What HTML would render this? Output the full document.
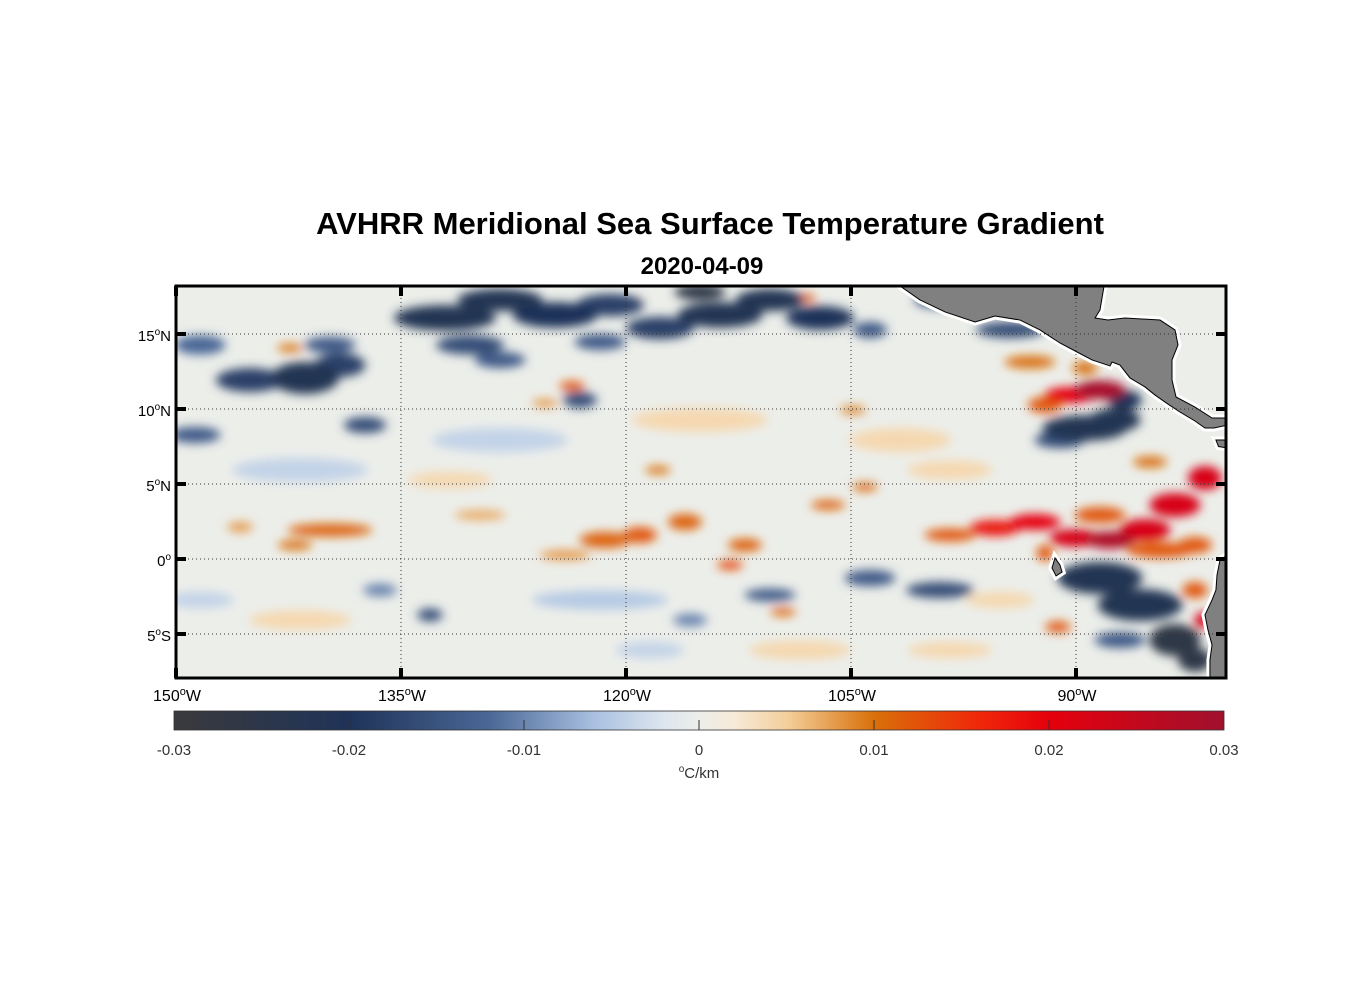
<!DOCTYPE html>
<html><head><meta charset="utf-8"><style>
body{margin:0;background:#fff;}
svg text{font-family:"Liberation Sans",sans-serif;}
</style></head><body>
<svg id="chart" width="1356" height="1000" xmlns="http://www.w3.org/2000/svg">
<defs>
<filter id="blur" x="-20%" y="-20%" width="140%" height="140%"><feGaussianBlur stdDeviation="5"/></filter>
<clipPath id="plotclip"><rect x="176" y="286" width="1050" height="392"/></clipPath>
<linearGradient id="cbgrad" x1="0" x2="1" y1="0" y2="0"></linearGradient>
</defs>
<text x="710" y="234" text-anchor="middle" font-size="31" font-weight="bold">AVHRR Meridional Sea Surface Temperature Gradient</text>
<text x="702" y="274" text-anchor="middle" font-size="24" font-weight="bold">2020-04-09</text>
<rect x="176" y="286" width="1050" height="392" fill="#eceeea"/>
<g id="field" clip-path="url(#plotclip)"><g id="fieldInner" filter="url(#blur)"></g></g>
<g id="land" clip-path="url(#plotclip)"></g>
<g id="grid"></g>
<rect x="176" y="286" width="1050" height="392" fill="none" stroke="#000" stroke-width="3"/>
<g id="axes"></g>
<rect x="174" y="711" width="1050" height="19" fill="url(#cbgrad)" stroke="#333" stroke-width="0.8"/>
<g id="cbticks"></g>
<text x="699" y="778" text-anchor="middle" font-size="15" fill="#333"><tspan font-size="10" dy="-6">o</tspan><tspan dy="6">C/km</tspan></text>
</svg>
<script>
const NS="http://www.w3.org/2000/svg";
const lonTicks=[-150,-135,-120,-105,-90];
const lonLabels=["150","135","120","105","90"];
const latTicks=[15,10,5,0,-5];
const latLabels=["15","10","5","0","5"];
const latHem=["N","N","N","","S"];
const cbTicks=[-0.03,-0.02,-0.01,0,0.01,0.02,0.03];
const cbLabels=["-0.03","-0.02","-0.01","0","0.01","0.02","0.03"];
const cmapVals=[-0.03,-0.02,-0.012,-0.006,-0.002,0,0.002,0.005,0.01,0.016,0.02,0.03];
const cmapCols=["#3a3a3c","#1f3358","#4a6796","#a9c0e0","#dde6ef","#eceeea","#f6ead8","#f4cf9c","#d9700a","#f0280a","#e6000c","#a0102e"];
// blobs: lon, lat, value, length (deg), height (deg)
const blobLon=[-148.4,-145.07,-141.4,-139.07,-148.73,-137.4,-139.73,-132.07,-128.4,-124.73,-121.07,-117.73,-113.73,-110.4,-107.07,-115.07,-130.4,-121.73,-128.4,-123.07,-99.07,-94.4,-103.73,-89.4,-87.4,-86.73,-91.07,-88.4,-85.73,-83.4,-82.07,-99.07,-103.73,-133.07,-136.4,-110.4,-115.73,-87.07,-88.4,-90.4,-92.07,-93.07,-89.4,-98.4,-95.4,-92.73,-90.07,-87.73,-85.4,-83.4,-81.4,-84.4,-82.07,-92.07,-88.4,-85.07,-82.07,-81.53,-91.2,-139.73,-142.07,-145.73,-129.73,-121.4,-119.07,-124.07,-116.07,-112.07,-113.07,-106.53,-104.07,-117.87,-123.6,-142.4,-108.2,-104.87,-109.53,-119.73,-125.4,-141.73,-115.07,-128.4,-101.73,-121.73,-141.73,-108.4,-98.4,-131.73,-98.4,-148.4,-95.07,-118.4,-85.07];
const blobLat=[14.27,11.93,12.07,12.93,8.27,8.93,14.27,16.07,17.27,16.27,16.93,15.4,16.27,17.27,16.07,17.8,14.27,14.47,13.27,10.6,17.27,15.27,15.27,8.73,9.27,10.6,7.93,-1.27,-3.07,-5.4,-6.73,-2.07,-1.27,-3.73,-2.07,-2.4,-4.07,-5.4,11.27,10.93,10.27,13.13,12.73,1.6,2.07,2.47,1.4,1.27,1.93,3.6,5.4,0.6,0.93,0.4,2.93,6.47,-2.07,-4.07,-4.53,1.93,0.93,2.13,2.93,1.27,1.6,0.27,2.47,0.93,-0.4,3.6,4.8,5.93,11.53,14.07,17.4,9.93,-3.53,17.13,10.4,5.93,9.27,7.93,7.93,-2.73,-4.07,-6.07,5.93,5.27,-6.07,-2.73,-2.73,-6.07,14.6];
const blobVal=[-0.012,-0.018,-0.022,-0.018,-0.014,-0.016,-0.014,-0.022,-0.022,-0.020,-0.018,-0.018,-0.022,-0.022,-0.020,-0.026,-0.016,-0.014,-0.014,-0.016,-0.016,-0.016,-0.014,-0.022,-0.022,-0.020,-0.016,-0.022,-0.022,-0.026,-0.026,-0.016,-0.014,-0.016,-0.010,-0.014,-0.010,-0.014,0.029,0.020,0.012,0.010,0.010,0.012,0.018,0.020,0.022,0.028,0.022,0.022,0.022,0.012,0.012,0.012,0.012,0.010,0.012,0.022,0.012,0.011,0.010,0.008,0.007,0.011,0.012,0.008,0.011,0.011,0.013,0.011,0.011,0.010,0.012,0.010,0.012,0.009,0.011,0.010,0.008,-0.004,0.004,-0.004,0.004,-0.005,0.004,0.004,0.004,0.004,0.004,-0.004,0.004,-0.004,-0.006];
const blobLen=[3,4,4,3,3,2.5,3,6,5,5,4,4,5,4,4,3,4,3,3,2,3,4,2,5,3,2,3,5,5,3,2,4,3,1.5,2,3,2,3,3,3,2,3,1.5,3,3,3,3,3,3,3,2,4,2,1,3,2,1.5,1,1.5,5,2,1.5,3,3,2,3,2,2,1.5,2,1.5,1.5,1.5,1.5,1.5,1.5,1.5,1.5,1.5,8,8,8,6,8,6,6,5,5,5,4,4,4,3];
const blobHt=[1.2,1.5,2,1.5,1,1,1,1.6,1.4,1.6,1.4,1.4,1.6,1.4,1.5,1,1.2,1,1,1,1,1,1,1.6,1.5,1.2,1,2,2,2,1.5,1,1,0.8,0.8,0.8,0.8,1,1.2,1,1,0.8,0.8,0.8,1,1,1.1,1.1,1.4,1.5,1.5,1,1,1,1,0.7,1,1,0.7,0.8,0.6,0.6,0.6,1,1,0.6,1,0.8,0.6,0.6,0.5,0.5,0.6,0.5,0.5,0.5,0.5,0.5,0.5,1.5,1.5,1.5,1.5,1.2,1.2,1.2,1.2,1,1,1,1,1,1];
// land polygons in lon/lat
const landA=[[-101.73,18.2],[-88.13,18.2],[-88.4,16.6],[-88.73,16.07],[-87.87,15.93],[-86.73,16.07],[-84.4,15.93],[-83.4,15.27],[-83.2,14.27],[-83.6,13.27],[-83.6,11.93],[-83.33,10.8],[-82.07,10.13],[-80.93,9.4],[-79.9,9.4],[-79.9,8.93],[-80.8,8.73],[-81.4,8.73],[-82.07,9.2],[-83.07,9.8],[-83.87,10.33],[-84.73,10.93],[-85.4,11.47],[-86.4,12.07],[-87.07,12.93],[-87.6,13.13],[-87.73,12.87],[-88.93,13.27],[-89.93,13.8],[-91.07,14.4],[-92.4,15.27],[-93.73,15.93],[-95.4,16.2],[-96.73,15.8],[-98.73,16.47],[-100.4,17.27]];
const landB=[[-80.67,7.93],[-79.9,7.93],[-79.9,7.4],[-80.5,7.5]];
const landC=[[-79.9,0.27],[-80.4,-0.07],[-80.6,-1.07],[-80.67,-2.07],[-80.93,-2.73],[-81.4,-3.73],[-81.2,-4.73],[-80.93,-5.73],[-81.07,-6.73],[-81.07,-8.1],[-79.9,-8.1]];
const landD=[[-91.4,0.07],[-91.07,-0.4],[-90.93,-0.87],[-91.33,-1.13],[-91.6,-0.6]];
const X=lon=>176+(lon+150)*15, Y=lat=>559-lat*15;
const cbX=v=>174+(v+0.03)/0.06*1050;
function hex(c){return [1,3,5].map(i=>parseInt(c.substr(i,2),16));}
function color(v){
  if(v<=cmapVals[0])return cmapCols[0];
  for(let i=1;i<cmapVals.length;i++){if(v<=cmapVals[i]){const t=(v-cmapVals[i-1])/(cmapVals[i]-cmapVals[i-1]);const a=hex(cmapCols[i-1]),b=hex(cmapCols[i]);return "rgb("+a.map((x,k)=>Math.round(x+(b[k]-x)*t)).join(",")+")";}}
  return cmapCols[cmapCols.length-1];
}
const field=document.getElementById('fieldInner');
const order=blobVal.map((v,i)=>i).sort((a,b)=>Math.abs(blobVal[a])-Math.abs(blobVal[b]));
order.forEach(i=>{const e=document.createElementNS(NS,'ellipse');
e.setAttribute('cx',X(blobLon[i]));e.setAttribute('cy',Y(blobLat[i]));
e.setAttribute('rx',blobLen[i]*8.5);e.setAttribute('ry',blobHt[i]*8);
e.setAttribute('fill',color(blobVal[i]));


field.appendChild(e);});
const land=document.getElementById('land');
[landA,landB,landC,landD].forEach(poly=>{const pts=poly.map(q=>X(q[0])+","+Y(q[1])).join(" ");
const h=document.createElementNS(NS,'polygon');h.setAttribute('points',pts);
h.setAttribute('fill','none');h.setAttribute('stroke','#fff');h.setAttribute('stroke-width','7');


land.appendChild(h);
const p=document.createElementNS(NS,'polygon');p.setAttribute('points',pts);
p.setAttribute('fill','#808080');p.setAttribute('stroke','#000');p.setAttribute('stroke-width','1');


land.appendChild(p);});
const grid=document.getElementById('grid'),axes=document.getElementById('axes');
lonTicks.forEach((lon,i)=>{const x=X(lon);
 if(i>0){const l=document.createElementNS(NS,'line');l.setAttribute('x1',x);l.setAttribute('x2',x);l.setAttribute('y1',286);l.setAttribute('y2',678);l.setAttribute('stroke','#333');l.setAttribute('stroke-width','1');l.setAttribute('stroke-dasharray','1,3');
 
 grid.appendChild(l);}
 [[286,296],[668,678]].forEach(s=>{const t=document.createElementNS(NS,'line');t.setAttribute('x1',x);t.setAttribute('x2',x);t.setAttribute('y1',s[0]);t.setAttribute('y2',s[1]);t.setAttribute('stroke','#000');t.setAttribute('stroke-width','4');
 
 axes.appendChild(t);});
 const tx=document.createElementNS(NS,'text');tx.setAttribute('x',x+1);tx.setAttribute('y',701);tx.setAttribute('text-anchor','middle');tx.setAttribute('font-size','16');
 tx.innerHTML=lonLabels[i]+'<tspan font-size="11" dy="-6">o</tspan><tspan dy="6">W</tspan>';
 
 axes.appendChild(tx);});
latTicks.forEach((lat,i)=>{const y=Y(lat);
 const l=document.createElementNS(NS,'line');l.setAttribute('x1',176);l.setAttribute('x2',1226);l.setAttribute('y1',y);l.setAttribute('y2',y);l.setAttribute('stroke','#333');l.setAttribute('stroke-width','1');l.setAttribute('stroke-dasharray','1,3');
 
 grid.appendChild(l);
 [[176,186],[1216,1226]].forEach(s=>{const t=document.createElementNS(NS,'line');t.setAttribute('x1',s[0]);t.setAttribute('x2',s[1]);t.setAttribute('y1',y);t.setAttribute('y2',y);t.setAttribute('stroke','#000');t.setAttribute('stroke-width','4');
 
 axes.appendChild(t);});
 const tx=document.createElementNS(NS,'text');tx.setAttribute('x',171);tx.setAttribute('y',y+7);tx.setAttribute('text-anchor','end');tx.setAttribute('font-size','15');
 tx.innerHTML=latLabels[i]+'<tspan font-size="10" dy="-6">o</tspan><tspan dy="6">'+latHem[i]+'</tspan>';
 
 axes.appendChild(tx);});
const grad=document.getElementById('cbgrad');
cmapVals.forEach((v,i)=>{const s=document.createElementNS(NS,'stop');s.setAttribute('offset',((v+0.03)/0.06*100)+'%');s.setAttribute('stop-color',cmapCols[i]);grad.appendChild(s);});
const cbt=document.getElementById('cbticks');
cbTicks.forEach((v,i)=>{const x=cbX(v);
 if(i>0&&i<cbTicks.length-1){const t=document.createElementNS(NS,'line');t.setAttribute('x1',x);t.setAttribute('x2',x);t.setAttribute('y1',720);t.setAttribute('y2',730);t.setAttribute('stroke','#333');
 
 cbt.appendChild(t);}
 const tx=document.createElementNS(NS,'text');tx.setAttribute('x',x);tx.setAttribute('y',755);tx.setAttribute('text-anchor','middle');tx.setAttribute('font-size','15');tx.setAttribute('fill','#333');tx.textContent=cbLabels[i];
 
 cbt.appendChild(tx);});
</script>
</body></html>
